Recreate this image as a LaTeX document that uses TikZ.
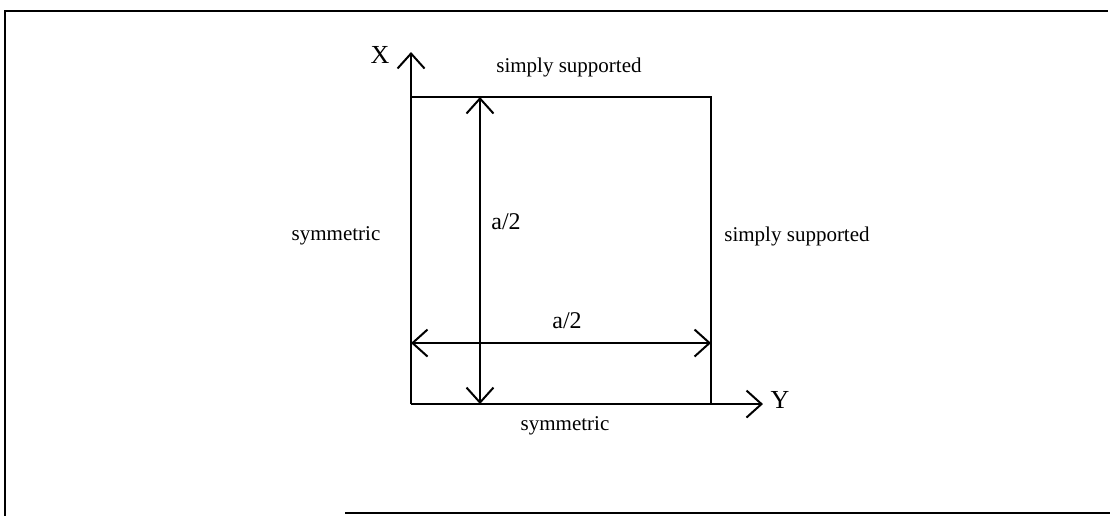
\documentclass[tikz,border=0pt]{standalone}
\usepackage{fontspec}
\setmainfont{Liberation Serif}
\usetikzlibrary{arrows.meta,positioning}
\tikzset{
  marco/.style={line width=1pt},
  lado/.style={line width=1pt},
  eje/.style={line width=1pt,-{Straight Barb[length=7.5pt,width=13.5pt]}},
  cota/.style={line width=1pt,{Straight Barb[length=7.5pt,width=13.5pt]}-{Straight Barb[length=7.5pt,width=13.5pt]}},
  et/.style={font=\fontsize{10.5}{12}\selectfont,inner sep=1pt},
  etc/.style={font=\fontsize{12}{14}\selectfont,inner sep=1pt},
  etj/.style={font=\fontsize{13}{15}\selectfont,inner sep=1pt},
}
\begin{document}
\begin{tikzpicture}[x=1cm,y=1cm]
\useasboundingbox (0,0) rectangle (19.506,9.068);

\draw[marco] (19.47,8.874) -- (0.088,8.874) -- (0.088,0);
\draw[marco] (6.063,0.053) -- (19.506,0.053);

\coordinate (o) at (7.223,1.968);
\coordinate (a) at (7.223,7.363);
\coordinate (b) at (12.495,7.363);
\coordinate (c) at (12.495,1.968);
\coordinate (xtip) at (7.223,8.154);
\coordinate (ytip) at (13.408,1.968);
\coordinate (va) at (8.435,7.363);
\coordinate (vb) at (8.435,1.968);
\coordinate (ha) at (7.223,3.040);
\coordinate (hb) at (12.495,3.040);

\draw[lado] (a) -- (b) -- (c);
\draw[eje] (o) -- (xtip);
\draw[eje] (o) -- (ytip);
\draw[cota] (va) -- (vb);
\draw[cota] (ha) -- (hb);

\node[etj] (lx) at (6.678,8.101) {X};
\node[etj] (ly) at (13.707,2.038) {Y};
\node[et] (sup) at (9.999,7.890) {simply supported};
\node[et] (der) at (14.006,4.920) {simply supported};
\node[et] (izq) at (5.905,4.920) {symmetric};
\node[et] (inf) at (9.929,1.582) {symmetric};
\node[etc] (av) at (8.892,5.166) {a/2};
\node[etc] (ah) at (9.964,3.427) {a/2};

\end{tikzpicture}
\end{document}
